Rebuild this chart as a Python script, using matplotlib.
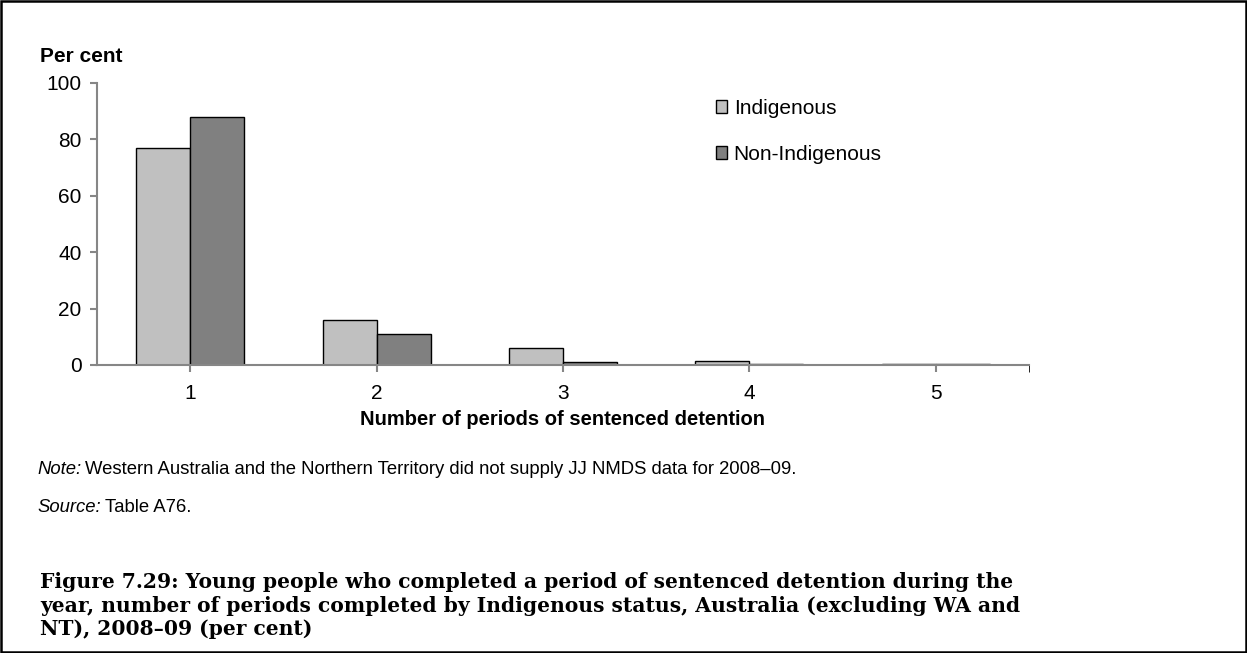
import matplotlib.pyplot as plt
import matplotlib.patches as mpatches
import numpy as np

categories = ['1', '2', '3', '4', '5']
indigenous = [76.8, 15.9, 6.1, 1.3, 0.5]
non_indigenous = [87.8, 11.0, 1.2, 0.5, 0.5]
series_labels = ['Indigenous', 'Non-Indigenous']
colors = ['#c0c0c0', '#808080']
axis_grey = '#868686'

caption_lines = ['Figure 7.29: Young people who completed a period of sentenced detention during the',
                 'year, number of periods completed by Indigenous status, Australia (excluding WA and',
                 'NT), 2008\u201309 (per cent)']
note_text = 'Western Australia and the Northern Territory did not supply JJ NMDS data for 2008\u201309.'
source_text = 'Table A76.'

plt.rcParams['font.family'] = ['Liberation Sans', 'DejaVu Sans']

fig = plt.figure(figsize=(12.47, 6.53), dpi=100)
W, H = 1247.0, 653.0
ax = fig.add_axes([97 / W, 1 - 365 / H, (1029 - 97) / W, (365 - 83) / H])

x = np.arange(len(categories))
bw = 54 / 186.4
ax.bar(x - bw / 2, indigenous, bw, color=colors[0], edgecolor='black', linewidth=1.0)
ax.bar(x + bw / 2, non_indigenous, bw, color=colors[1], edgecolor='black', linewidth=1.0)

ax.set_xlim(-0.5, len(categories) - 0.5)
ax.set_ylim(0, 100)
ax.set_yticks(range(0, 101, 20))
ax.set_xticks(x)
ax.set_xticklabels(categories)
ax.set_xticks([len(categories) - 0.5], minor=True)
ax.tick_params(axis='both', labelsize=15, colors=axis_grey, labelcolor='black', width=1.5)
ax.tick_params(axis='x', which='both', length=5, pad=9)
ax.tick_params(axis='y', length=5, pad=6)
for side in ['top', 'right']:
    ax.spines[side].set_visible(False)
for side in ['left', 'bottom']:
    ax.spines[side].set_color(axis_grey)
    ax.spines[side].set_linewidth(1.5)

ax.set_xlabel('Number of periods of sentenced detention', fontsize=14.5, fontweight='bold', labelpad=5)
fig.text(40 / W, 1 - 57 / H, 'Per cent', fontsize=15, fontweight='bold', va='center', ha='left')

handles = [mpatches.Patch(facecolor=c, edgecolor='black', linewidth=1.0) for c in colors]
fig.legend(handles, series_labels, loc='upper left', bbox_to_anchor=(716 / W, 1 - 99 / H),
           frameon=False, fontsize=15, handlelength=0.55, handleheight=0.55,
           handletextpad=0.3, labelspacing=1.3, borderaxespad=0, borderpad=0)

renderer = fig.canvas.get_renderer()


def label_line(y, lead, body):
    t = fig.text(37 / W, 1 - y / H, lead, fontsize=13.3, style='italic', va='center')
    bb = t.get_window_extent(renderer)
    fig.text((bb.x1 + 4) / W, 1 - y / H, body, fontsize=13.3, va='center')


label_line(470, 'Note:', note_text)
label_line(507, 'Source:', source_text)

for i, line in enumerate(caption_lines):
    fig.text(40 / W, 1 - (582 + 23.5 * i) / H, line, fontsize=14.6, fontweight='bold',
             family=['DejaVu Serif'], va='center', ha='left')

fig.add_artist(mpatches.Rectangle((0.0008, 0.0015), 0.9984, 0.997, transform=fig.transFigure,
                                  fill=False, edgecolor='black', linewidth=1.8))

fig.savefig('out.png', dpi=100)
